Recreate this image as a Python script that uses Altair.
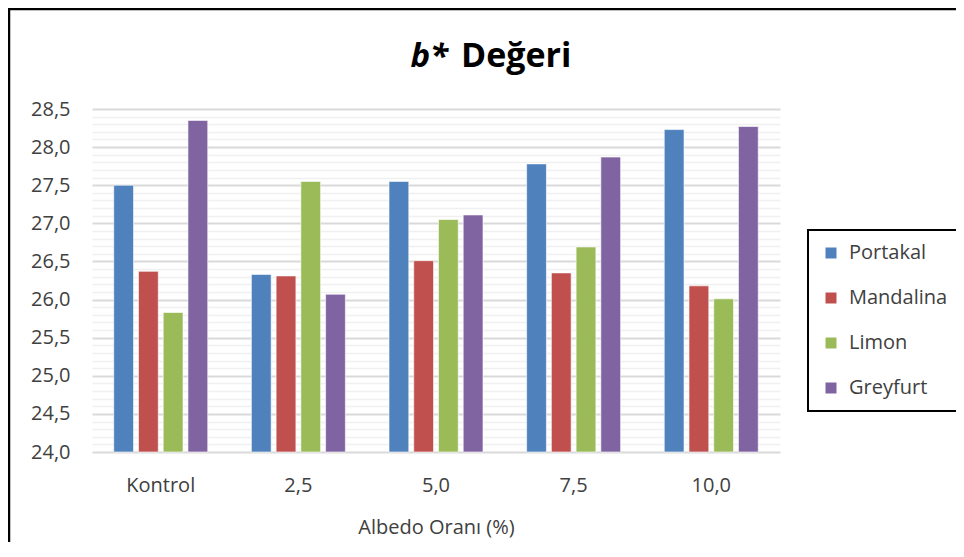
import altair as alt
import pandas as pd

categories = ["Kontrol", "2,5", "5,0", "7,5", "10,0"]
series = ["Portakal", "Mandalina", "Limon", "Greyfurt"]
portakal = [27.50, 26.33, 27.55, 27.78, 28.23]
mandalina = [26.37, 26.31, 26.51, 26.35, 26.18]
limon = [25.83, 27.55, 27.05, 26.69, 26.01]
greyfurt = [28.35, 26.07, 27.11, 27.87, 28.27]
colors = ["#4F81BD", "#C0504D", "#9BBB59", "#8064A2"]
y_ticks = [round(24.0 + 0.1 * i, 1) for i in range(46)]

rows = []
for s, vals in zip(series, [portakal, mandalina, limon, greyfurt]):
    for c, v in zip(categories, vals):
        rows.append({"Oran": c, "Tür": s, "Değer": v})
df = pd.DataFrame(rows)

FONT = "Open Sans"
major = "abs(datum.value * 2 - round(datum.value * 2)) < 0.01"

bars = alt.Chart(df).mark_bar(stroke="#ffffff", strokeOpacity=0.6, strokeWidth=1).encode(
    x=alt.X("Oran:N", sort=categories,
            scale=alt.Scale(paddingInner=0.317, paddingOuter=0.158),
            axis=alt.Axis(title="Albedo Oranı (%)", labelAngle=0, ticks=False, tickSize=0,
                          domain=False, labelFont=FONT, labelFontSize=20,
                          labelColor="#404040", labelPadding=23,
                          titleFont=FONT, titleFontSize=20, titleFontWeight="normal",
                          titleColor="#404040", titlePadding=22)),
    xOffset=alt.XOffset("Tür:N", sort=series,
                        scale=alt.Scale(paddingInner=0.2, paddingOuter=0)),
    y=alt.Y("Değer:Q",
            scale=alt.Scale(domain=[24.0, 28.5], zero=False, nice=False),
            axis=alt.Axis(title=None, values=y_ticks, ticks=False, tickSize=0, domain=False,
                          labelExpr=f"{major} ? replace(format(datum.value, '.1f'), '.', ',') : ''",
                          labelFont=FONT, labelFontSize=20, labelColor="#404040",
                          labelPadding=22,
                          gridColor={"condition": {"test": major, "value": "#d9d9d9"}, "value": "#f0f0f0"},
                          gridWidth={"condition": {"test": major, "value": 2}, "value": 1.5})),
    y2=alt.datum(24.0),
    color=alt.Color("Tür:N", sort=series,
                    scale=alt.Scale(domain=series, range=colors),
                    legend=alt.Legend(title=None, orient="none", legendX=716, legendY=121,
                                      strokeColor="#000000", padding=13,
                                      labelFont=FONT, labelFontSize=20, labelColor="#404040",
                                      symbolType="square", symbolSize=121,
                                      symbolStrokeWidth=0, labelOffset=8, rowPadding=25)),
)

one = alt.Data(values=[{"a": 1}])
frame_left = alt.Chart(one).mark_rule(color="#000000", strokeWidth=2.5).encode(
    x=alt.value(-83), y=alt.value(-101), y2=alt.value(460))
frame_top = alt.Chart(one).mark_rule(color="#000000", strokeWidth=2.5).encode(
    y=alt.value(-100), x=alt.value(-84), x2=alt.value(900))

title_b = alt.Chart(one).mark_text(text="b*", font=FONT, fontSize=33, fontWeight="bold",
                                   fontStyle="italic", align="right", baseline="alphabetic",
                                   color="#000000").encode(
    x=alt.value(356), y=alt.value(-42))
title_d = alt.Chart(one).mark_text(text="Değeri", font=FONT, fontSize=34, fontWeight="bold",
                                   align="left", baseline="alphabetic",
                                   color="#000000").encode(
    x=alt.value(369), y=alt.value(-42))

chart = alt.layer(bars, frame_left, frame_top, title_b, title_d).properties(
    width=688, height=343,
    padding={"left": 84, "top": 101, "right": 176, "bottom": 90},
    autosize=alt.AutoSizeParams(type="none"),
).configure_view(stroke=None).configure_legend(strokeWidth=2)

chart.save("out.html", embed_options={"renderer": "svg", "actions": False})
